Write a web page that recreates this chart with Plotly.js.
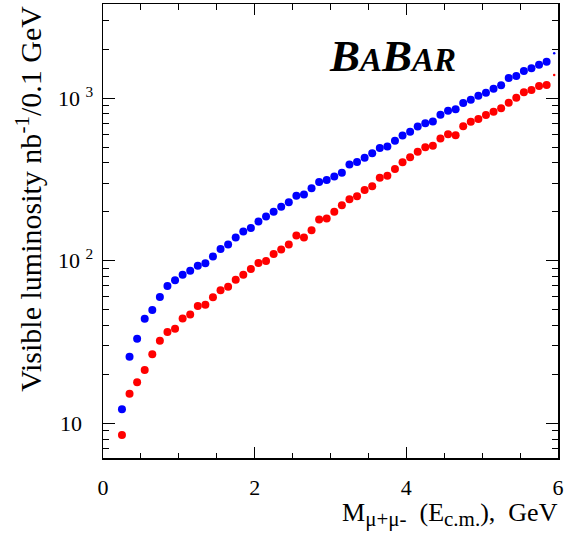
<!DOCTYPE html>
<html>
<head>
<meta charset="utf-8">
<script src="https://cdn.plot.ly/plotly-3.0.1.min.js"></script>
<style>html,body{margin:0;padding:0;background:#fff;}#chart{width:579px;height:541px;}</style>
</head>
<body>
<div id="chart"></div>
<script>
// Bin centres, GeV
const mass = [0.25,0.35,0.45,0.55,0.65,0.75,0.85,0.95,1.05,1.15,
              1.25,1.35,1.45,1.55,1.65,1.75,1.85,1.95,2.05,2.15,
              2.25,2.35,2.45,2.55,2.65,2.75,2.85,2.95,3.05,3.15,
              3.25,3.35,3.45,3.55,3.65,3.75,3.85,3.95,4.05,4.15,
              4.25,4.35,4.45,4.55,4.65,4.75,4.85,4.95,5.05,5.15,
              5.25,5.35,5.45,5.55,5.65,5.75,5.85,5.95];
// Blue series (upper)
const lumiBlue = [12.2,25.7,33.1,43.9,49.8,59.8,69.9,75.8,81.9,86.7,
                  93.2,96.5,106,118,126,139,151,159,174,187,
                  200,215,229,251,255,279,305,314,329,347,
                  390,404,430,458,493,504,546,589,621,669,
                  700,718,791,837,853,933,978,1035,1080,1143,
                  1199,1329,1368,1468,1525,1605,1674,1886];
// Red series (lower)
const lumiRed = [8.47,15.2,17.9,21.3,26.6,32.2,36.4,38.2,44.1,46.7,
                 52.7,53.6,59.6,65.9,69.2,76.4,82.0,88.9,96.8,99.6,
                 110,117,126,143,139,154,179,182,200,219,
                 239,249,272,287,324,333,366,403,433,468,
                 499,510,564,599,591,671,716,744,787,825,
                 865,937,1006,1086,1122,1187,1204,1387];
const xTickVals = [0,2,4,6];
const xTickText = ['0','2','4','6'];
const yTickVals = [10,100,1000];
const yTickText = ['10\u00a0\u00a0','10 <sup>2</sup>','10 <sup>3</sup>'];

const sizes = mass.map((m,i)=> i===mass.length-1 ? 2.5 : 8);
const yMinor = [];
for (let d=1; d<=1000; d*=10) for (let k=2;k<=9;k++) yMinor.push(k*d);

const FONT = 'Liberation Serif, Times New Roman, serif';
const SUB = s => '<sub><span style="font-size:21px">' + s + '</span></sub>';
const NB = '\u00a0';

const traces = [
  {x: mass, y: lumiBlue, type:'scatter', mode:'markers',
   marker:{color:'#0000ff', size:sizes, opacity:1, line:{width:0}}, cliponaxis:false, hoverinfo:'skip'},
  {x: mass, y: lumiRed, type:'scatter', mode:'markers',
   marker:{color:'#ff0000', size:sizes, opacity:1, line:{width:0}}, cliponaxis:false, hoverinfo:'skip'}
];

const layout = {
  width:579, height:541,
  margin:{l:103, r:21, t:4, b:83},
  paper_bgcolor:'#fff', plot_bgcolor:'#fff',
  showlegend:false,
  font:{family:FONT, size:22, color:'#000'},
  xaxis:{
    range:[0,6], showgrid:false, zeroline:false,
    showline:true, linecolor:'#000', linewidth:1.5, mirror:'allticks',
    ticks:'inside', ticklen:11, tickwidth:1, tickcolor:'#000',
    tickvals:xTickVals, ticktext:xTickText, ticklabelstandoff:9,
    tickfont:{family:FONT, size:22, color:'#000'},
    minor:{ticks:'inside', ticklen:5.5, tickwidth:1, tickcolor:'#000', dtick:0.5, showgrid:false}
  },
  yaxis:{
    type:'log', range:[0.7866, 3.5787], showgrid:false, zeroline:false,
    showline:true, linecolor:'#000', linewidth:1.5, mirror:'allticks',
    ticks:'inside', ticklen:12, tickwidth:1, tickcolor:'#000',
    tickvals:yTickVals, ticktext:yTickText, ticklabelstandoff:4,
    tickfont:{family:FONT, size:22, color:'#000'},
    minor:{ticks:'inside', ticklen:6, tickwidth:1, tickcolor:'#000', tickvals:yMinor, showgrid:false}
  },
  annotations:[
    {text:'Visible luminosity nb<sup>-1</sup>/0.1 GeV', textangle:-90,
     xref:'paper', yref:'paper', x:-0.163, y:1.0, xanchor:'center', yanchor:'top',
     showarrow:false, font:{family:FONT, size:30, color:'#000'}},
    {text:'M' + SUB('\u03bc+\u03bc-') + NB+NB + '(E' + SUB('c.m.') + '),' + NB+NB + 'GeV',
     xref:'paper', yref:'paper', x:1.004, y:-0.083, xanchor:'right', yanchor:'top',
     showarrow:false, font:{family:FONT, size:26, color:'#000'}},
    {text:'B<span style="font-size:33px">A</span>B<span style="font-size:33px">AR</span>',
     xref:'paper', yref:'paper', x:0.636, y:0.885, xanchor:'center', yanchor:'middle',
     showarrow:false, font:{family:FONT, size:45, color:'#000', weight:'bold', style:'italic'}}
  ]
};

Plotly.newPlot('chart', traces, layout, {staticPlot:true, displayModeBar:false});
</script>
</body>
</html>
